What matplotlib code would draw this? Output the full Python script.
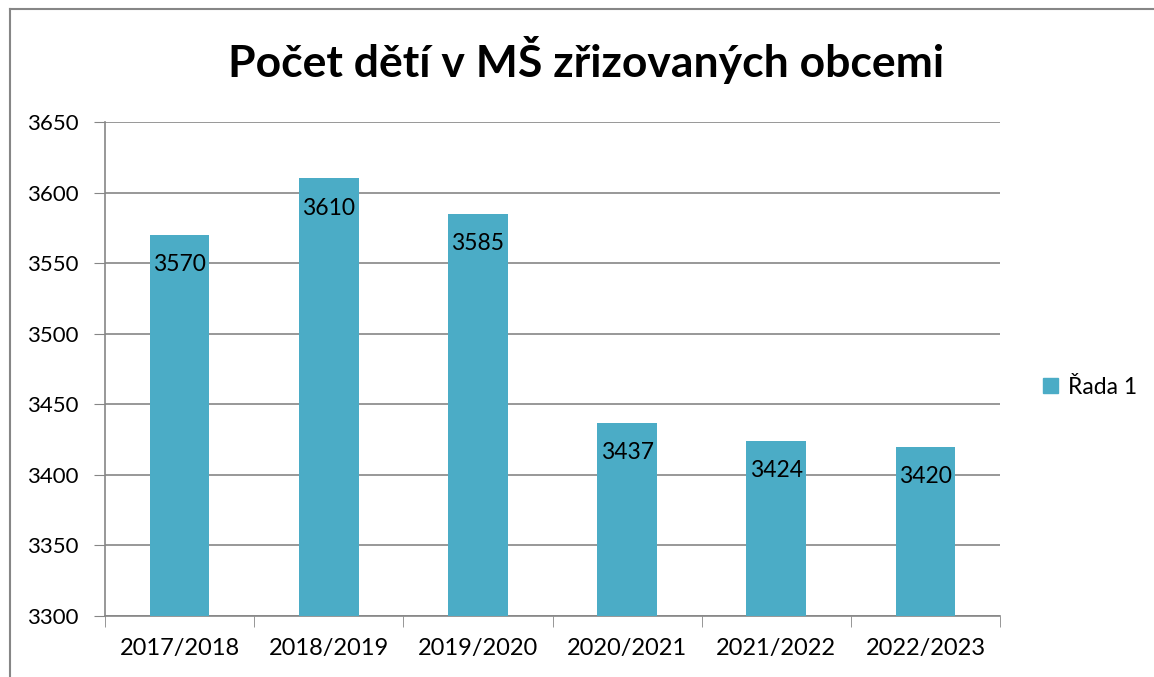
import matplotlib.pyplot as plt
from matplotlib.lines import Line2D
from matplotlib.patches import Patch

# --- data ---
roky = ['2017/2018', '2018/2019', '2019/2020', '2020/2021', '2021/2022', '2022/2023']
pocet_deti = [3570, 3610, 3585, 3437, 3424, 3420]
nazev_rady = 'Řada 1'
titulek = 'Počet dětí v MŠ zřizovaných obcemi'

barva = '#4BACC6'
seda = '#868686'

plt.rcParams['font.family'] = ['Lato', 'DejaVu Sans']

fig = plt.figure(figsize=(11.54, 6.77), dpi=100)
ax = fig.add_axes([0.091, 0.0901, 0.7756, 0.7297])

x = range(len(roky))
bars = ax.bar(x, pocet_deti, width=0.4, color=barva, zorder=3)

# popisky hodnot uvnitř sloupců
for b, v in zip(bars, pocet_deti):
    ax.annotate(str(v), (b.get_x() + b.get_width() / 2, v),
                xytext=(0, -14), textcoords='offset points',
                ha='center', va='top', fontsize=16.5, color='black', zorder=4)

ax.set_xlim(-0.5, len(roky) - 0.5)
ax.set_ylim(3300, 3650)
ax.set_yticks(range(3300, 3651, 50))
ax.set_xticks(list(x))
ax.set_xticklabels(roky, fontsize=17)
ax.tick_params(axis='y', labelsize=16, length=8, color=seda, pad=11)
ax.tick_params(axis='x', length=0, pad=16)
# tick marks between categories
ax.set_xticks([i - 0.5 for i in range(len(roky) + 1)], minor=True)
ax.tick_params(axis='x', which='minor', length=8, color=seda, direction='out')

ax.grid(axis='y', color=seda, linewidth=1.2, zorder=0)
for s in ['top', 'right']:
    ax.spines[s].set_visible(False)
for s in ['left', 'bottom']:
    ax.spines[s].set_color(seda)
    ax.spines[s].set_linewidth(1.2)

fig.suptitle(titulek, fontsize=32, fontweight='bold', x=0.508, y=0.947)

fig.legend(handles=[Patch(color=barva, label=nazev_rady)], loc='center left',
           bbox_to_anchor=(0.886, 0.428), frameon=False, fontsize=16.5,
           handlelength=0.65, handleheight=0.65, handletextpad=0.45)

# rámeček grafu (levý a horní okraj)
fig.add_artist(Line2D([10 / 1154, 10 / 1154], [0, 1 - 9 / 677], color=seda, lw=1.5,
                      transform=fig.transFigure))
fig.add_artist(Line2D([10 / 1154, 1], [1 - 9 / 677, 1 - 9 / 677], color=seda, lw=1.5,
                      transform=fig.transFigure))

fig.savefig('out.png', dpi=100)
